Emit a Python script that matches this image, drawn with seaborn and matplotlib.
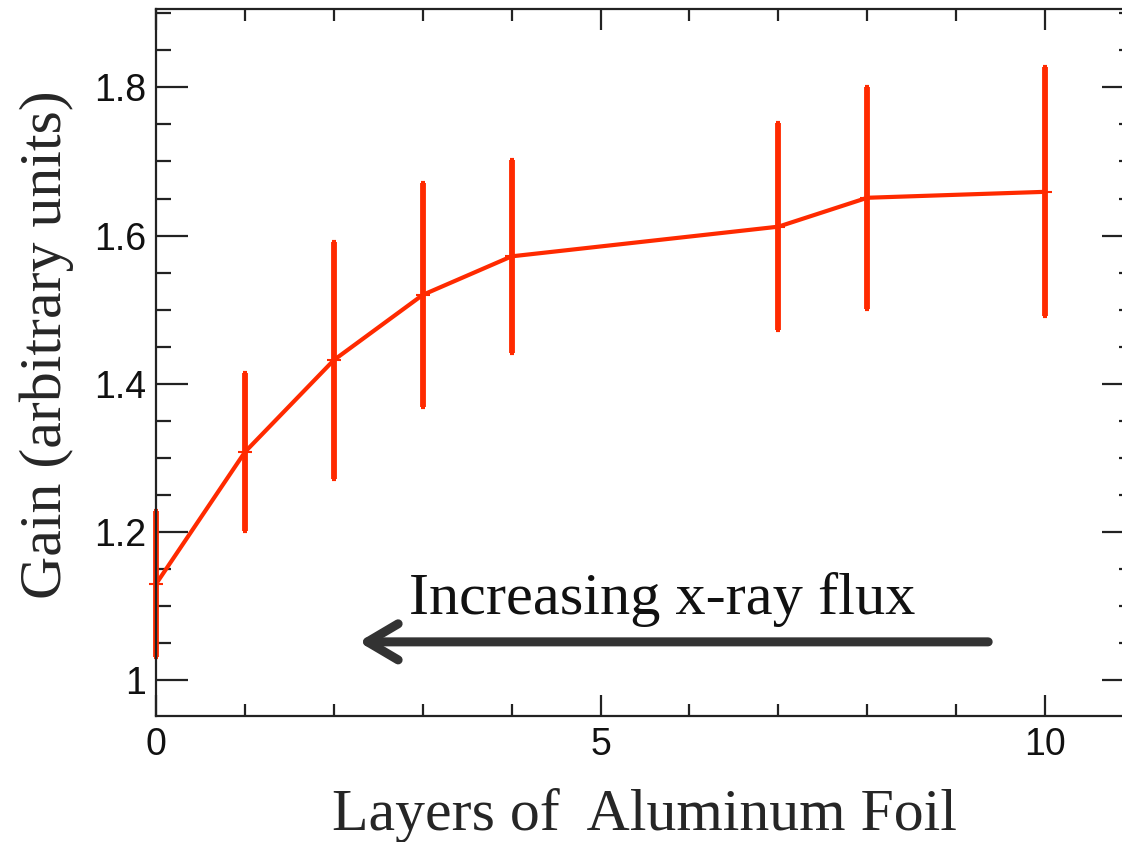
import matplotlib
matplotlib.use("Agg")
import matplotlib.pyplot as plt
import seaborn as sns
import pandas as pd
from matplotlib.ticker import MultipleLocator, FixedLocator, FixedFormatter

# ---- data ----
layers = [0, 1, 2, 3, 4, 7, 8, 10]
gain = [1.130, 1.308, 1.432, 1.520, 1.572, 1.612, 1.651, 1.659]
gain_err = [0.098, 0.107, 0.160, 0.151, 0.130, 0.140, 0.150, 0.168]
x_ticks = [0, 5, 10]
x_tick_labels = ["0", "5", "10"]
y_ticks = [1.0, 1.2, 1.4, 1.6, 1.8]
y_tick_labels = ["1", "1.2", "1.4", "1.6", "1.8"]

df = pd.DataFrame({"layers": layers, "gain": gain, "err": gain_err})

sns.set_style("ticks")
plt.rcParams["font.family"] = ["Liberation Sans", "DejaVu Sans"]

RED = "#ff2a00"
fig = plt.figure(figsize=(11.22, 8.42), dpi=100)
W, H = 1122, 842
ax = fig.add_axes([156 / W, (H - 716) / H, (1134 - 156) / W, (716 - 9) / H])

sns.lineplot(data=df, x="layers", y="gain", ax=ax, color=RED, linewidth=3,
             marker="_", markersize=10, markeredgewidth=1.5, markeredgecolor=RED,
             clip_on=False)
eb = ax.errorbar(df["layers"], df["gain"], yerr=df["err"], fmt="none",
                 ecolor=RED, elinewidth=4.2, capsize=1.5, capthick=3)
for art in eb.lines[1] + eb.lines[2]:
    art.set_clip_on(False)

ax.set_xlim(0, 11)
ax.set_ylim(0.952, 1.9056)

ax.xaxis.set_major_locator(FixedLocator(x_ticks))
ax.xaxis.set_major_formatter(FixedFormatter(x_tick_labels))
ax.xaxis.set_minor_locator(MultipleLocator(1))
ax.yaxis.set_major_locator(FixedLocator(y_ticks))
ax.yaxis.set_major_formatter(FixedFormatter(y_tick_labels))
ax.yaxis.set_minor_locator(MultipleLocator(0.05))

ax.tick_params(axis="both", which="both", direction="in", top=True, right=True,
               colors="#222222", width=1.6, labelsize=27, labelcolor="#111111")
ax.tick_params(axis="x", which="major", length=15, pad=8)
ax.tick_params(axis="x", which="minor", length=8.5)
ax.tick_params(axis="y", which="major", length=23, pad=7)
ax.tick_params(axis="y", which="minor", length=10.8)
for s in ax.spines.values():
    s.set_linewidth(1.6)
    s.set_color("#222222")

serif = ["Liberation Serif", "DejaVu Serif"]
ax.set_xlabel("Layers of  Aluminum Foil", family=serif, fontsize=43, labelpad=18)
ax.set_ylabel("Gain (arbitrary units)", family=serif, fontsize=43)
ax.yaxis.set_label_coords(-(156 - 74) / 978, 0.525)

ax.annotate("", xy=(2.28, 1.052), xytext=(9.36, 1.052),
            arrowprops=dict(arrowstyle="->,head_length=1.1,head_width=0.65",
                            lw=6.5, color="#333333", shrinkA=0, shrinkB=0,
                            mutation_scale=20, capstyle="round", joinstyle="round"))
ax.text(5.69, 1.09, "Increasing x-ray flux", family=serif, fontsize=43.5,
        ha="center", va="baseline", color="#111111")

fig.savefig("out.png", dpi=100)
